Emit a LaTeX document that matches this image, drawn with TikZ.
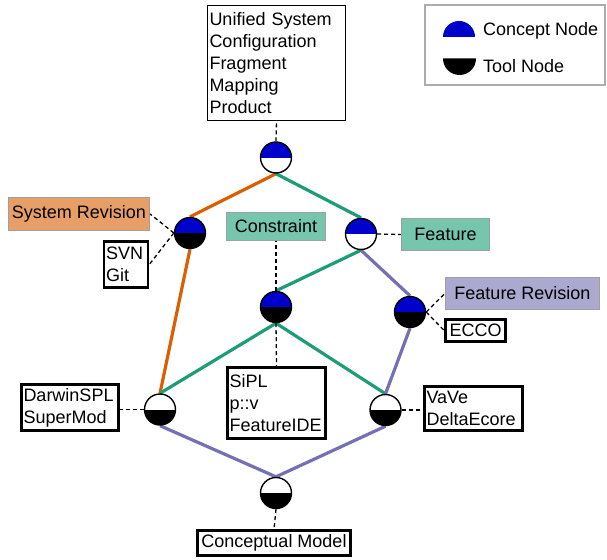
\documentclass[tikz,border=0pt]{standalone}
\usepackage{fontspec}
\setmainfont{Liberation Sans}
\usetikzlibrary{backgrounds}
\definecolor{revorange}{HTML}{D95F02}
\definecolor{featgreen}{HTML}{1B9E77}
\definecolor{revpurple}{HTML}{7570B3}
\definecolor{conceptblue}{RGB}{0,0,204}

\tikzset{
	lattice/.style={circle,draw,line width=1.4pt,minimum size=31pt,inner sep=0pt,fill=white},
	concept/.style={lattice,path picture={\fill[conceptblue] (path picture bounding box.west) rectangle (path picture bounding box.north east);}},
	tool/.style={lattice,path picture={\fill[black] (path picture bounding box.west) rectangle (path picture bounding box.south east);}},
	concepttool/.style={lattice,path picture={\fill[conceptblue] (path picture bounding box.west) rectangle (path picture bounding box.north east);
		\fill[black] (path picture bounding box.west) rectangle (path picture bounding box.south east);}},
	latline/.style={line width=3.2pt},
	hint/.style={dash pattern=on 4pt off 3pt,line width=1.3pt},
	plainbox/.style={draw,line width=1.3pt,inner xsep=2pt,inner ysep=0pt,align=left},
	toolbox/.style={draw,line width=2.6pt,inner xsep=2pt,inner ysep=0pt},
	labelbox/.style={draw=gray!75,line width=1.3pt,inner sep=1pt}
}

\begin{document}
\begin{tikzpicture}[x=1pt,y=-1pt,font=\fontsize{18}{22}\selectfont]
		\useasboundingbox (0,0) rectangle (607,559);
		%%lattice nodes
		\node[concept] (usc) at (276,157.5) {};
		\node[concepttool] (sysrev) at (190,233) {};
		\node[concept] (feat) at (361,234) {};
		\node[concepttool] (constr) at (276,307) {};
		\node[concepttool] (featrev) at (410,312) {};
		\node[tool] (darwin) at (160,409.5) {};
		\node[tool] (vave) at (385.5,410) {};
		\node[tool] (cmodel) at (276,493) {};
		%%concept labels
		\node[plainbox,text width=134pt,minimum height=115pt] (usclabel) at (276.5,63) {Unified System\\Configuration\\Fragment\\Mapping\\Product};
		\node[labelbox,fill=revorange!60,minimum width=141pt,minimum height=33pt] (srlabel) at (79,214) {System Revision};
		\node[labelbox,fill=featgreen!60,minimum width=99pt,minimum height=28pt] (conlabel) at (276,226.5) {Constraint};
		\node[labelbox,fill=featgreen!60,minimum width=88pt,minimum height=32pt] (flabel) at (445.5,234.5) {Feature};
		\node[labelbox,fill=revpurple!60,minimum width=154pt,minimum height=32pt] (frlabel) at (522.5,293.5) {Feature Revision};
		%%tool labels
		\node[toolbox,align=left,text width=40pt,minimum height=46pt] (svnlabel) at (126,264.5) {SVN\\Git};
		\node[toolbox,minimum width=60pt,minimum height=22pt] (eccolabel) at (475.5,330.5) {ECCO};
		\node[toolbox,align=left,text width=93pt,minimum height=46pt] (dlabel) at (70,407.5) {DarwinSPL\\SuperMod};
		\node[toolbox,align=left,text width=94pt,minimum height=71pt] (sipllabel) at (276.5,403) {SiPL\\p::v\\FeatureIDE};
		\node[toolbox,align=left,text width=94pt,minimum height=44pt] (vlabel) at (473.5,408.5) {VaVe\\DeltaEcore};
		\node[toolbox,minimum width=153pt,minimum height=25pt] (cmlabel) at (274,543) {Conceptual Model};
		%%legend
		\node[draw=gray!65,line width=1.2pt,minimum width=180pt,minimum height=80pt] (legend) at (515,45) {};
		\fill[conceptblue] (443,37) arc[start angle=180,end angle=0,radius=16pt] -- cycle;
		\node[anchor=base west,inner sep=0pt] (lconcept) at (483,36) {Concept Node};
		\fill[black] (443,58.5) arc[start angle=180,end angle=360,radius=16.5pt] -- cycle;
		\node[anchor=base west,inner sep=0pt] (ltool) at (483,72.5) {Tool Node};
		%%lattice edges
		\begin{scope}[on background layer]
		\draw[latline,revorange] (usc.south) -- (sysrev.north);
		\draw[latline,revorange] (sysrev.south) -- (darwin.north);
		\draw[latline,featgreen] (usc.south) -- (feat.north);
		\draw[latline,featgreen] (feat.south) -- (constr.north);
		\draw[latline,featgreen] (constr.south) -- (darwin.north);
		\draw[latline,featgreen] (constr.south) -- (vave.north);
		\draw[latline,revpurple] (feat.south) -- (featrev.north);
		\draw[latline,revpurple] (featrev.south) -- (vave.north);
		\draw[latline,revpurple] (darwin.south) -- (cmodel.north);
		\draw[latline,revpurple] (vave.south) -- (cmodel.north);
		\end{scope}
		%%dashed label lines
		\draw[hint] (usc.north) -- (usclabel.south);
		\draw[hint] (sysrev.west) -- (srlabel.east);
		\draw[hint] (sysrev.west) -- (svnlabel.east);
		\draw[hint] (feat.east) -- (flabel.west);
		\draw[hint] (constr.north) -- (conlabel.south);
		\draw[hint] (constr.south) -- (sipllabel.north);
		\draw[hint] (featrev.east) -- (frlabel.west);
		\draw[hint] (featrev.east) -- (eccolabel.west);
		\draw[hint] (darwin.west) -- (darwin.west -| dlabel.east);
		\draw[hint] (vave.east) -- (vave.east -| vlabel.west);
		\draw[hint] (cmodel.south) -- (cmlabel.north);
	\end{tikzpicture}
\end{document}
